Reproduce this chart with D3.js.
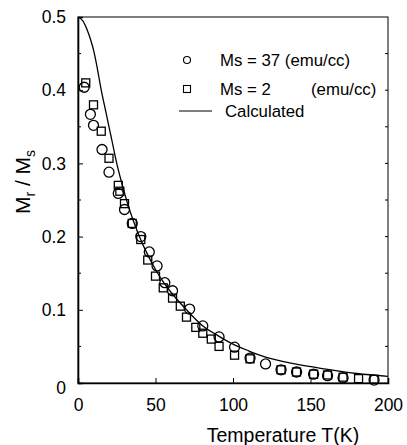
<!DOCTYPE html>
<html>
<head>
<meta charset="utf-8">
<script src="https://cdn.jsdelivr.net/npm/d3@7"></script>
<style>
  body { margin: 0; background: #fff; }
  svg text { font-family: "Liberation Sans", Arial, sans-serif; fill: #000; }
</style>
</head>
<body>
<div id="chart"></div>
<script>
// Ms = 37 (emu/cc) - circles
var circleT = [4, 8, 10, 15.5, 20, 26, 30, 35, 40.5, 46, 51, 56, 61, 72, 80.5, 91, 101, 111, 121, 131, 141, 152, 161, 171, 191];
var circleV = [0.404, 0.367, 0.352, 0.319, 0.288, 0.259, 0.237, 0.218, 0.2, 0.179, 0.16, 0.137, 0.126, 0.101, 0.078, 0.063, 0.049, 0.034, 0.026, 0.018, 0.015, 0.012, 0.010, 0.007, 0.004];

// Ms = 2 (emu/cc) - squares
var squareT = [5, 10, 15, 20, 26, 27, 30, 35, 40.5, 45, 50, 55, 61, 66, 70, 76, 80.5, 86, 91, 101, 111, 131, 141, 152, 161, 171, 181, 191];
var squareV = [0.41, 0.38, 0.344, 0.307, 0.27, 0.262, 0.245, 0.218, 0.196, 0.168, 0.146, 0.13, 0.116, 0.105, 0.09, 0.076, 0.068, 0.06, 0.05, 0.038, 0.033, 0.018, 0.015, 0.012, 0.011, 0.008, 0.006, 0.005];

// calculated curve
var calcT = [0, 3, 6, 8, 10, 12, 15, 18, 20, 22, 25, 28, 32, 36, 40, 45, 50, 55, 60, 70, 80, 90, 100, 110, 120, 140, 160, 180, 200];
var calcV = [0.5, 0.495, 0.482, 0.47, 0.455, 0.435, 0.40, 0.37, 0.35, 0.33, 0.30, 0.275, 0.245, 0.22, 0.198, 0.175, 0.155, 0.138, 0.124, 0.1, 0.079, 0.065, 0.053, 0.044, 0.036, 0.026, 0.019, 0.013, 0.009];

var xTicks = [0, 50, 100, 150, 200];
var yTicks = [0, 0.1, 0.2, 0.3, 0.4, 0.5];

var margin = {top: 17, right: 19, bottom: 62, left: 78},
    width = 407 - margin.left - margin.right,
    height = 445 - margin.top - margin.bottom;

var svg = d3.select("#chart")
    .append("svg")
    .attr("width", 407)
    .attr("height", 445)
    .append("g")
    .attr("transform", "translate(" + margin.left + "," + margin.top + ")");

var x = d3.scaleLinear().domain([0, 200]).range([0, width]);
var y = d3.scaleLinear().domain([0, 0.5]).range([height, 0]);

// frame
svg.append("rect")
    .attr("x", 0).attr("y", 0)
    .attr("width", width).attr("height", height)
    .attr("fill", "none").attr("stroke", "#000").attr("stroke-width", 1);

// axes, ticks pointing inward
var xaxis = svg.append("g")
    .attr("transform", "translate(0," + height + ")")
    .call(d3.axisBottom(x).tickValues(xTicks).tickSize(-5).tickPadding(12).tickFormat(d3.format("d")));
var yaxis = svg.append("g")
    .call(d3.axisLeft(y).tickValues(yTicks).tickSize(-5).tickPadding(12).tickFormat(function(d) { return d === 0 ? "0" : d3.format(".1f")(d); }));
[xaxis, yaxis].forEach(function(a) {
    a.select(".domain").attr("stroke-width", 1.6);
    a.selectAll("text").attr("font-size", "17.5px").attr("font-family", "Liberation Sans, Arial, sans-serif");
});
xaxis.selectAll("text").attr("dy", "0.9em");
yaxis.selectAll(".tick").filter(function(d) { return d === 0; }).select("text").attr("dy", "0.6em");

// minor ticks
svg.append("g").selectAll("line")
    .data(d3.range(0.05, 0.5, 0.1))
    .enter().append("line")
    .attr("x1", 0).attr("x2", 3)
    .attr("y1", function(d) { return y(d); }).attr("y2", function(d) { return y(d); })
    .attr("stroke", "#000");
svg.append("g").selectAll("line")
    .data(d3.range(0.05, 0.5, 0.05))
    .enter().append("line")
    .attr("x1", width - 3).attr("x2", width)
    .attr("y1", function(d) { return y(d); }).attr("y2", function(d) { return y(d); })
    .attr("stroke", "#000");

// calculated line
var line = d3.line()
    .x(function(d) { return x(d[0]); })
    .y(function(d) { return y(d[1]); })
    .curve(d3.curveMonotoneX);
svg.append("path")
    .datum(d3.zip(calcT, calcV))
    .attr("d", line)
    .attr("fill", "none")
    .attr("stroke", "#000")
    .attr("stroke-width", 1.3);

// squares
var sq = 8;
svg.append("g").selectAll("rect")
    .data(d3.zip(squareT, squareV))
    .enter().append("rect")
    .attr("x", function(d) { return x(d[0]) - sq / 2; })
    .attr("y", function(d) { return y(d[1]) - sq / 2; })
    .attr("width", sq).attr("height", sq)
    .attr("fill", "none").attr("stroke", "#000").attr("stroke-width", 1.3);

// circles
svg.append("g").selectAll("circle")
    .data(d3.zip(circleT, circleV))
    .enter().append("circle")
    .attr("cx", function(d) { return x(d[0]); })
    .attr("cy", function(d) { return y(d[1]); })
    .attr("r", 5)
    .attr("fill", "none").attr("stroke", "#000").attr("stroke-width", 1.3);

// legend
var leg = svg.append("g").attr("transform", "translate(" + (187 - margin.left) + "," + (60 - margin.top) + ")");
leg.append("circle").attr("cx", 0).attr("cy", 0).attr("r", 3.5)
    .attr("fill", "none").attr("stroke", "#000").attr("stroke-width", 1.1);
leg.append("text").attr("x", 33).attr("y", 6).attr("font-size", "16.8px").text("Ms = 37 (emu/cc)");
leg.append("rect").attr("x", -3.5).attr("y", 25.5).attr("width", 7).attr("height", 7)
    .attr("fill", "none").attr("stroke", "#000").attr("stroke-width", 1.1);
leg.append("text").attr("x", 33).attr("y", 35).attr("font-size", "16.8px").text("Ms = 2");
leg.append("text").attr("x", 124).attr("y", 35).attr("font-size", "16.8px").text("(emu/cc)");
leg.append("line").attr("x1", -8).attr("x2", 25).attr("y1", 51).attr("y2", 51)
    .attr("stroke", "#000").attr("stroke-width", 1.2);
leg.append("text").attr("x", 38).attr("y", 57).attr("font-size", "16.8px").text("Calculated");

// axis titles
svg.append("text")
    .attr("x", 283 - margin.left)
    .attr("y", 442 - margin.top)
    .attr("text-anchor", "middle")
    .attr("font-size", "19.5px")
    .text("Temperature T(K)");

var yl = svg.append("text")
    .attr("transform", "translate(" + (30 - margin.left) + "," + (182 - margin.top) + ") rotate(-90)")
    .attr("text-anchor", "middle")
    .attr("font-size", "21px");
yl.append("tspan").text("M");
yl.append("tspan").attr("font-size", "14px").attr("dy", "5").text("r");
yl.append("tspan").attr("dy", "-5").text(" / M");
yl.append("tspan").attr("font-size", "14px").attr("dy", "5").text("s");
</script>
</body>
</html>
